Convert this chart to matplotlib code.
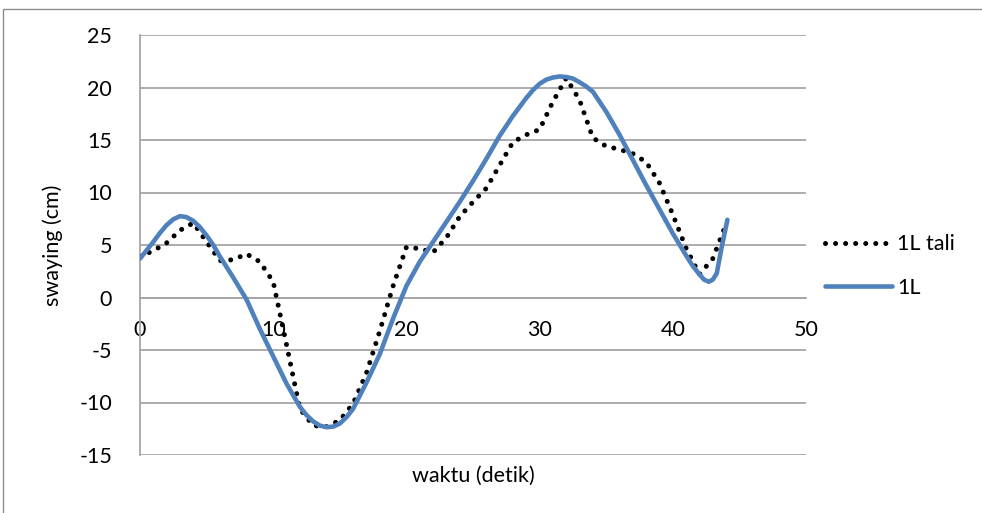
import matplotlib
matplotlib.use("Agg")
import matplotlib.pyplot as plt
from matplotlib.patches import Rectangle

plt.rcParams['font.family'] = ['Lato', 'DejaVu Sans']
plt.rcParams['axes.unicode_minus'] = False

# 1L tali (dotted series)
t_tali = [0, 1, 2, 3, 4, 5, 6, 7, 8, 9, 10, 11, 12, 13, 14, 15, 16, 17, 18, 19,
          20, 21, 22, 23, 24, 25, 26, 27, 28, 29, 30, 31, 32, 33, 34, 35, 36, 37,
          38, 39, 40, 41, 42, 43, 44]
y_tali = [3.9, 4.45, 5.2, 6.4, 7.1, 5.3, 3.5, 3.6, 4.15, 3.4, 1.5, -4.5, -10.6,
          -12.2, -12.3, -11.7, -10.1, -7.2, -3.2, 1.1, 4.8, 4.65, 4.3, 5.7, 7.7,
          9.1, 10.4, 12.6, 14.8, 15.5, 16.0, 18.65, 20.9, 18.8, 15.2, 14.4, 14.1,
          13.7, 12.9, 10.9, 7.9, 4.7, 2.2, 3.7, 7.0]

# 1L (solid series)
t_1l = [0, 0.5, 1, 1.5, 2, 2.5, 3, 3.5, 4, 4.5, 5, 5.5, 6, 7, 8, 9, 10, 11, 12,
        12.5, 13, 13.5, 14, 14.5, 15, 15.5, 16, 17, 18, 19, 20, 21, 22, 23, 24,
        25, 26, 27, 28, 29, 29.5, 30, 30.5, 31, 31.5, 32, 32.5, 33, 33.5, 34, 35,
        36, 37, 38, 39, 40, 41, 41.5, 42, 42.35, 42.7, 43.0, 43.3, 43.67, 44.1]
y_1l = [3.7, 4.5, 5.3, 6.15, 6.9, 7.45, 7.75, 7.65, 7.3, 6.7, 5.9, 5.0, 3.9, 1.9,
        -0.2, -3.0, -5.6, -8.2, -10.4, -11.2, -11.8, -12.2, -12.35, -12.3, -12.0,
        -11.4, -10.6, -8.1, -5.4, -2.0, 1.1, 3.4, 5.3, 7.2, 9.1, 11.1, 13.2, 15.4,
        17.3, 19.0, 19.75, 20.35, 20.75, 20.95, 21.05, 21.0, 20.85, 20.5, 20.1,
        19.6, 17.7, 15.5, 13.1, 10.7, 8.4, 6.1, 4.0, 3.0, 2.2, 1.7, 1.5, 1.7, 2.3,
        4.8, 7.4]

x_ticks = [0, 10, 20, 30, 40, 50]
y_ticks = [-15, -10, -5, 0, 5, 10, 15, 20, 25]

W, H = 982, 513
fig = plt.figure(figsize=(W / 100, H / 100), dpi=100)

# outer chart border
fig.patches.append(Rectangle((3 / W, -0.1), 1.2, (H - 9) / H + 0.1,
                             transform=fig.transFigure, fill=False,
                             edgecolor='#8c8c8c', linewidth=1.0))

ax = fig.add_axes([140 / W, (H - 455) / H, 666 / W, 420 / H])
grid_c = '#a6a6a6'

ax.plot(t_tali, y_tali, color='black', linewidth=3.6, linestyle=(0, (0.01, 2.0)),
        dash_capstyle='round', label='1L tali', zorder=3)
ax.plot(t_1l, y_1l, color='#4f81bd', linewidth=3.3, solid_joinstyle='round',
        solid_capstyle='round', label='1L', zorder=4)

ax.set_xlim(0, 50)
ax.set_ylim(-15, 25)
ax.set_xticks(x_ticks)
ax.set_yticks(y_ticks)
ax.yaxis.grid(True, color=grid_c, linewidth=1.3)
ax.set_axisbelow(True)

for s in ['top', 'right']:
    ax.spines[s].set_visible(False)
ax.spines['left'].set_color(grid_c)
ax.spines['left'].set_linewidth(1.3)
ax.spines['bottom'].set_position(('data', 0))
ax.spines['bottom'].set_color(grid_c)
ax.spines['bottom'].set_linewidth(1.3)
ax.tick_params(axis='both', length=0, labelsize=15.5)
ax.tick_params(axis='y', pad=20)
ax.tick_params(axis='x', pad=16)

ax.set_ylabel('swaying (cm)', fontsize=15.5, labelpad=12)
fig.text(473 / W, 1 - 476 / H, 'waktu (detik)', fontsize=15.5,
         ha='center', va='center')

leg = ax.legend(loc='center left', bbox_to_anchor=(1.0, 0.45), frameon=False,
                fontsize=15.5, handlelength=3.1, handletextpad=0.25,
                labelspacing=1.1)

fig.savefig('out.png', dpi=100)
